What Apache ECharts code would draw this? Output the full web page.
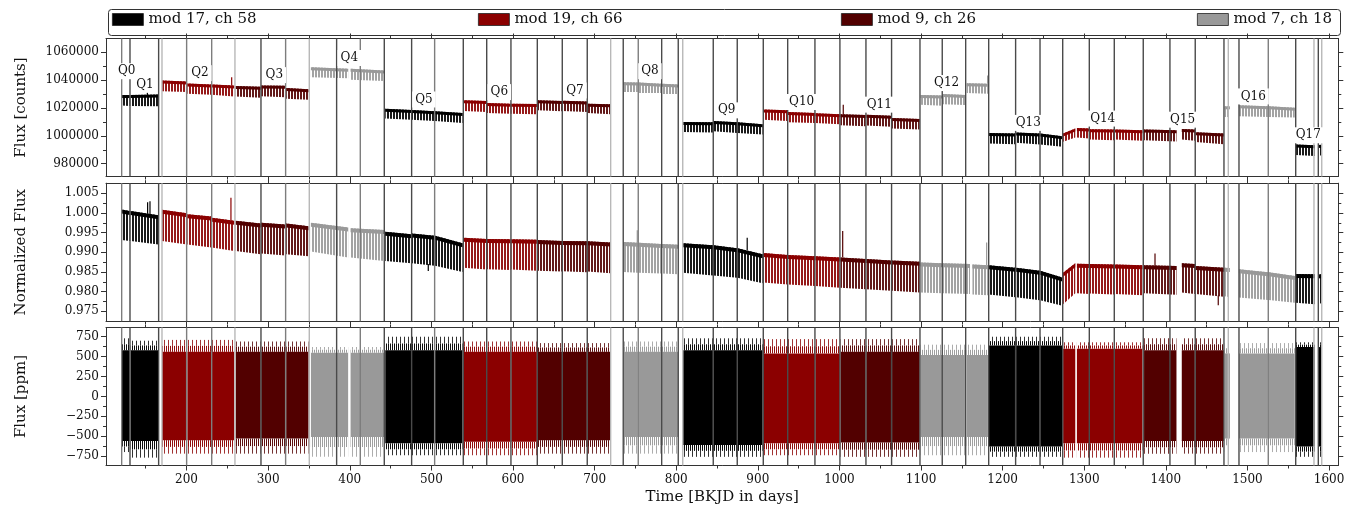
<!DOCTYPE html>
<html><head><meta charset="utf-8">
<script src="https://cdn.jsdelivr.net/npm/echarts@6/dist/echarts.min.js"></script>
<style>html,body{margin:0;padding:0;background:#fff}#c{width:1356px;height:508px}</style>
</head><body><div id="c"></div>
<script>
// ---------------- data ----------------
const MODULES = ['mod 17, ch 58', 'mod 19, ch 66', 'mod 9, ch 26', 'mod 7, ch 18'];
const QUARTERS = ['Q0','Q1','Q2','Q3','Q4','Q5','Q6','Q7','Q8','Q9','Q10','Q11','Q12','Q13','Q14','Q15','Q16','Q17'];
const QUARTER_MODULE = [0,0,1,2,3,0,1,2,3,0,1,2,3,0,1,2,3,0];
// label anchor [time, counts]
const QUARTER_LABEL_POS = [
  [126.6,1046400],[149.1,1036900],[216.4,1045000],[307.5,1043600],[399.4,1055900],[490.9,1026100],
  [583.2,1031400],[675.9,1032600],[767.8,1046400],[861.8,1018300],[953.7,1024300],[1048.8,1022400],
  [1131.4,1037900],[1231.4,1009300],[1322.6,1012400],[1420.6,1011600],[1507.1,1028300],[1574.5,1000400]
];
// [quarter, tStart, tEnd, upperStart, upperEnd, lowerStart, lowerEnd]  (counts)
const RAW_SEGMENTS = [
  [0,120.5,130.3,1029300,1029300,1021700,1021400],
  [1,131.5,165.5,1029300,1029700,1021400,1021200],
  [2,169.9,200.5,1039700,1039000,1032100,1031400],
  [2,201.0,230.5,1037600,1036900,1030200,1029500],
  [2,231.0,258.4,1036900,1036200,1029500,1028300],
  [3,260.2,290.8,1035700,1035200,1028300,1027400],
  [3,291.5,321.0,1036200,1035900,1028500,1027800],
  [3,322.0,349.5,1034300,1033500,1026600,1025900],
  [4,352.4,398.0,1049300,1048100,1042100,1041400],
  [4,401.0,442.2,1048100,1046900,1040200,1039300],
  [5,443.5,475.5,1019500,1018500,1012400,1011600],
  [5,476.0,504.0,1018500,1017600,1011600,1010700],
  [5,504.5,538.2,1017600,1016400,1010700,1009300],
  [6,539.5,567.5,1025500,1025000,1017800,1017100],
  [6,568.0,597.0,1023500,1023100,1016400,1015900],
  [6,598.0,629.3,1023100,1022800,1015900,1015500],
  [7,630.2,660.0,1025500,1025000,1018300,1017600],
  [7,661.0,690.5,1025200,1024700,1017800,1017100],
  [7,691.5,719.5,1023100,1022600,1016400,1015500],
  [8,735.4,753.0,1038500,1038300,1031400,1031400],
  [8,754.0,781.5,1038300,1037400,1030700,1030700],
  [8,782.5,802.3,1037400,1036900,1030000,1030000],
  [9,808.5,845.0,1010000,1009700,1002800,1002400],
  [9,845.8,874.5,1010700,1009700,1003300,1002100],
  [9,875.2,905.9,1009700,1008300,1002100,1000900],
  [10,906.8,936.5,1019000,1018300,1011600,1010700],
  [10,937.0,970.0,1017100,1016400,1009700,1009300],
  [10,970.5,1000.5,1016200,1015500,1009300,1008300],
  [11,1001.3,1032.0,1015500,1015000,1007600,1006900],
  [11,1033.0,1063.5,1015200,1014500,1007400,1006600],
  [11,1064.5,1098.3,1012800,1012100,1005200,1004500],
  [12,1099.4,1126.0,1029300,1029000,1022400,1021600],
  [12,1126.5,1154.0,1030000,1029300,1022600,1022100],
  [12,1156.0,1182.0,1037800,1037400,1030700,1030200],
  [13,1182.8,1215.5,1002100,1001600,994500,994000],
  [13,1216.5,1245.5,1002400,1001600,995000,993800],
  [13,1246.0,1273.1,1001600,999700,993800,992100],
  [14,1274.1,1289.0,1001600,1005200,995700,998800],
  [14,1291.0,1306.0,1005700,1005200,998800,998100],
  [14,1307.0,1336.5,1004700,1004500,997400,996900],
  [14,1337.5,1371.3,1004500,1004000,997400,996400],
  [15,1373.3,1413.0,1004500,1004000,996900,995900],
  [15,1419.5,1435.5,1005000,1004500,997400,996400],
  [15,1436.5,1471.1,1002600,1001600,995500,994000],
  [16,1472.1,1478.5,1021200,1021200,1013500,1013500],
  [16,1489.5,1525.0,1021900,1021200,1014000,1013500],
  [16,1526.0,1558.0,1021200,1020200,1013500,1013100],
  [17,1559.2,1582.5,993800,993300,986200,985500],
  [17,1587.0,1591.0,993500,993500,985900,985900]
];
// [quarter, tStart, tEnd, upperStart, upperEnd, lowerStart, lowerEnd]  (normalized)
const NORM_SEGMENTS = [
  [0,120.5,130.3,1.0009,1.0005,0.9931,0.9929],
  [1,131.5,165.5,1.0005,0.9994,0.9929,0.9920],
  [2,169.9,200.5,1.0008,0.9999,0.9929,0.9920],
  [2,201.0,230.5,0.9997,0.9991,0.9920,0.9912],
  [2,231.0,258.4,0.9988,0.9980,0.9912,0.9903],
  [3,260.2,290.8,0.9980,0.9973,0.9903,0.9895],
  [3,291.5,321.0,0.9975,0.9971,0.9897,0.9892],
  [3,322.0,349.5,0.9973,0.9966,0.9895,0.9890],
  [4,352.4,398.0,0.9975,0.9963,0.9902,0.9887],
  [4,401.0,442.2,0.9961,0.9957,0.9887,0.9878],
  [5,443.5,475.5,0.9952,0.9946,0.9878,0.9872],
  [5,476.0,504.0,0.9948,0.9942,0.9872,0.9866],
  [5,504.5,538.2,0.9942,0.9923,0.9866,0.9850],
  [6,539.5,567.5,0.9937,0.9934,0.9861,0.9856],
  [6,568.0,597.0,0.9934,0.9933,0.9857,0.9855],
  [6,598.0,629.3,0.9933,0.9932,0.9856,0.9853],
  [7,630.2,660.0,0.9931,0.9929,0.9853,0.9851],
  [7,661.0,690.5,0.9929,0.9928,0.9852,0.9849],
  [7,691.5,719.5,0.9928,0.9925,0.9851,0.9847],
  [8,735.4,753.0,0.9926,0.9924,0.9850,0.9848],
  [8,754.0,781.5,0.9924,0.9921,0.9848,0.9846],
  [8,782.5,802.3,0.9921,0.9919,0.9846,0.9844],
  [9,808.5,845.0,0.9923,0.9918,0.9848,0.9841],
  [9,845.8,874.5,0.9918,0.9910,0.9841,0.9835],
  [9,875.2,905.9,0.9910,0.9895,0.9835,0.9821],
  [10,906.8,936.5,0.9898,0.9893,0.9823,0.9818],
  [10,937.0,970.0,0.9893,0.9890,0.9818,0.9814],
  [10,970.5,1000.5,0.9890,0.9887,0.9814,0.9810],
  [11,1001.3,1032.0,0.9887,0.9883,0.9810,0.9806],
  [11,1033.0,1063.5,0.9883,0.9879,0.9806,0.9802],
  [11,1064.5,1098.3,0.9879,0.9876,0.9802,0.9798],
  [12,1099.4,1126.0,0.9874,0.9872,0.9798,0.9796],
  [12,1126.5,1160.0,0.9872,0.9870,0.9796,0.9794],
  [12,1163.0,1182.0,0.9869,0.9867,0.9793,0.9791],
  [13,1182.8,1215.5,0.9867,0.9861,0.9793,0.9786],
  [13,1216.5,1245.5,0.9861,0.9853,0.9786,0.9778],
  [13,1246.0,1273.1,0.9853,0.9836,0.9778,0.9764],
  [14,1274.1,1289.0,0.9848,0.9872,0.9768,0.9796],
  [14,1291.0,1306.0,0.9871,0.9870,0.9796,0.9794],
  [14,1307.0,1336.5,0.9870,0.9869,0.9795,0.9793],
  [14,1337.5,1371.3,0.9869,0.9867,0.9794,0.9791],
  [15,1373.3,1413.0,0.9867,0.9865,0.9796,0.9792],
  [15,1419.5,1435.5,0.9872,0.9870,0.9798,0.9794],
  [15,1436.5,1471.1,0.9865,0.9861,0.9794,0.9787],
  [16,1472.1,1478.5,0.9861,0.9860,0.9788,0.9786],
  [16,1489.5,1525.0,0.9857,0.9849,0.9785,0.9779],
  [16,1526.0,1558.0,0.9849,0.9840,0.9779,0.9772],
  [17,1559.2,1582.5,0.9845,0.9844,0.9772,0.9768],
  [17,1587.0,1591.0,0.9844,0.9844,0.9770,0.9770]
];
// per quarter residual envelope [coreLow, coreHigh, spikeLow, spikeHigh]  (ppm)
const PPM_LEVELS = [
  [-560,580,-700,730],[-560,580,-770,700],[-550,560,-720,710],[-530,560,-720,690],
  [-510,550,-760,620],[-590,580,-740,750],[-570,560,-740,690],[-550,560,-720,670],
  [-510,560,-720,690],[-610,580,-760,730],[-590,540,-740,720],[-580,560,-760,720],
  [-510,520,-740,650],[-630,640,-760,750],[-590,600,-770,680],[-560,580,-720,730],
  [-530,540,-700,670],[-630,620,-760,680]
];
// isolated outliers [quarter, time, base, tip]
const RAW_SPIKES = [[1,152.0,1029300,1031000],[2,255.3,1036300,1042100],[11,1004.7,1015400,1022400],[12,1181.6,1037400,1043300]];
const NORM_SPIKES = [
  [1,152.3,0.9998,1.0027],[1,155.2,0.9997,1.0030],[2,254.4,0.9981,1.0039],[5,496.2,0.9870,0.98526],
  [8,752.3,0.9924,0.9956],[9,887.0,0.9905,0.9937],[11,1004.0,0.9887,0.9954],[12,1180.4,0.9867,0.9925],
  [15,1386.7,0.9866,0.98967],[15,1464.2,0.9790,0.97654]
];
// month / quarter boundary markers [time, shade 0=dark 1=mid 2=light]
const MONTH_LINES = [
  [120.5,1],[130.7,0],[165.8,0],[169.9,2],[200.1,1],[230.8,1],[259.3,2],[291.2,0],[321.4,1],[350.4,2],
  [383.9,0],[412.9,1],[442.3,0],[475.8,0],[504.0,1],[539.1,0],[567.8,0],[597.5,0],[629.8,0],[660.4,0],
  [691.0,0],[719.7,2],[735.1,0],[753.5,1],[782.2,0],[802.5,0],[808.0,2],[845.4,0],[874.8,0],[906.7,0],
  [936.6,0],[970.0,0],[1000.6,0],[1032.5,0],[1063.9,0],[1098.7,0],[1126.0,0],[1154.7,0],[1182.9,0],
  [1215.9,0],[1245.8,0],[1273.6,0],[1306.2,0],[1336.8,0],[1372.3,0],[1405.0,0],[1436.0,0],[1471.2,0],
  [1476.5,2],[1489.6,0],[1525.5,1],[1559.1,0],[1581.5,2],[1586.8,0],[1591.0,2]
];
const X_MAJOR_TICKS = [200,300,400,500,600,700,800,900,1000,1100,1200,1300,1400,1500,1600];
const X_MINOR_TICKS = [150,250,350,450,550,650,750,850,950,1050,1150,1250,1350,1450,1550];
const RAW_TICKS = [980000,1000000,1020000,1040000,1060000];
const RAW_MINOR_TICKS = [990000,1010000,1030000,1050000];
const NORM_TICKS = [0.975,0.980,0.985,0.990,0.995,1.000,1.005];
const NORM_MINOR_TICKS = [0.9775,0.9825,0.9875,0.9925,0.9975,1.0025];
const PPM_TICKS = [-750,-500,-250,0,250,500,750];
const PPM_MINOR_TICKS = [-625,-375,-125,125,375,625];

// ---------------- styling ----------------
const FONT = 'DejaVu Serif';
const MODULE_COLORS = ['#000000', '#8b0000', '#520000', '#999999'];
const SHADES = ['#4a4a4a', '#7d7d7d', '#b8b8b8'];
const AX = {color: '#333', width: 1};
function stripe(color, on, period, alpha) {
  const c = document.createElement('canvas');
  c.width = period; c.height = 4;
  const g = c.getContext('2d');
  g.globalAlpha = alpha; g.fillStyle = color; g.fillRect(0, 0, on, 4);
  return {image: c, repeat: 'repeat'};
}
const COMB = MODULE_COLORS.map(c => stripe(c, 2, 3, 0.9));
const FR_IN = MODULE_COLORS.map(c => stripe(c, 1, 2, 0.95));
const FR_OUT = MODULE_COLORS.map(c => stripe(c, 1, 4, 0.8));

const PANELS = [
  {top: 38.5, min: 970800, max: 1069900, major: RAW_TICKS, minor: RAW_MINOR_TICKS, name: 'Flux [counts]', edge: 3, fmt: v => String(v)},
  {top: 183.2, min: 0.97248, max: 1.00757, major: NORM_TICKS, minor: NORM_MINOR_TICKS, name: 'Normalized Flux', edge: 4, fmt: v => v.toFixed(3)},
  {top: 327.5, min: -869, max: 866, major: PPM_TICKS, minor: PPM_MINOR_TICKS, name: 'Flux [ppm]', edge: 0, fmt: v => v < 0 ? '\u2212' + (-v) : String(v)}
];
const GRID_LEFT = 106, GRID_W = 1232.3, GRID_H = 138;
const X_MIN = 101.3, X_MAX = 1611.3;

const grids = PANELS.map(p => ({left: GRID_LEFT, top: p.top, width: GRID_W, height: GRID_H}));
const xAxes = [], yAxes = [];
PANELS.forEach((p, gi) => {
  const last = gi === PANELS.length - 1;
  const xb = (pos, ticks, len, line, lab) => {
    const a = {type: 'value', gridIndex: gi, position: pos, min: X_MIN, max: X_MAX, splitLine: {show: false},
      axisLine: {show: line, onZero: false, lineStyle: AX},
      axisTick: {show: true, inside: false, customValues: ticks, length: len, lineStyle: AX},
      axisLabel: {show: lab, customValues: X_MAJOR_TICKS, fontSize: 12, fontFamily: FONT, color: '#111', margin: 8,
        formatter: v => String(v)}};
    if (lab) Object.assign(a, {name: 'Time [BKJD in days]', nameLocation: 'middle', nameGap: 24,
      nameTextStyle: {fontSize: 15, fontFamily: FONT, color: '#111'}});
    return a;
  };
  xAxes.push(xb('bottom', X_MAJOR_TICKS, 5, true, last));
  xAxes.push(xb('bottom', X_MINOR_TICKS, 3, false, false));
  xAxes.push(xb('top', X_MAJOR_TICKS, 5, true, false));
  xAxes.push(xb('top', X_MINOR_TICKS, 3, false, false));
  const yb = (pos, ticks, len, line, lab) => {
    const a = {type: 'value', gridIndex: gi, position: pos, min: p.min, max: p.max, splitLine: {show: false}, scale: true,
      axisLine: {show: line, onZero: false, lineStyle: AX},
      axisTick: {show: true, inside: false, customValues: ticks, length: len, lineStyle: AX},
      axisLabel: {show: lab, customValues: p.major, fontSize: 12, fontFamily: FONT, color: '#111', margin: 7, formatter: p.fmt}};
    if (lab) Object.assign(a, {name: p.name, nameLocation: 'middle', nameGap: 77, nameRotate: 90,
      nameTextStyle: {fontSize: 15, fontFamily: FONT, color: '#111'}});
    return a;
  };
  yAxes.push(yb('left', p.major, 5, true, true));
  yAxes.push(yb('left', p.minor, 3, false, false));
  yAxes.push(yb('right', p.major, 5, true, false));
  yAxes.push(yb('right', p.minor, 3, false, false));
});

function combRender(gi) {
  return function (params, api) {
    const m = QUARTER_MODULE[api.value(0)];
    const a = api.coord([api.value(1), api.value(3)]);
    const b = api.coord([api.value(2), api.value(4)]);
    const c = api.coord([api.value(2), api.value(6)]);
    const d = api.coord([api.value(1), api.value(5)]);
    const e = PANELS[gi].edge;
    return {type: 'group', children: [
      {type: 'polygon', shape: {points: [a, b, c, d]}, style: {fill: COMB[m]}},
      {type: 'polygon', shape: {points: [a, b, [b[0], b[1] + e], [a[0], a[1] + e]]}, style: {fill: MODULE_COLORS[m]}}
    ]};
  };
}
function ppmRender(params, api) {
  const m = QUARTER_MODULE[api.value(0)];
  const t0 = api.value(1), t1 = api.value(2);
  const x0 = api.coord([t0, 0])[0], x1 = api.coord([t1, 0])[0];
  const yLo = api.coord([t0, api.value(3)])[1], yHi = api.coord([t0, api.value(4)])[1];
  const ySLo = api.coord([t0, api.value(5)])[1], ySHi = api.coord([t0, api.value(6)])[1];
  const yHiMid = (yHi + ySHi) / 2, yLoMid = (yLo + ySLo) / 2;
  const w = x1 - x0;
  return {type: 'group', children: [
    {type: 'rect', shape: {x: x0, y: ySHi, width: w, height: yHiMid - ySHi}, style: {fill: FR_OUT[m]}},
    {type: 'rect', shape: {x: x0, y: yHiMid, width: w, height: yHi - yHiMid}, style: {fill: FR_IN[m]}},
    {type: 'rect', shape: {x: x0, y: yHi, width: w, height: yLo - yHi}, style: {fill: MODULE_COLORS[m]}},
    {type: 'rect', shape: {x: x0, y: yLo, width: w, height: yLoMid - yLo}, style: {fill: FR_IN[m]}},
    {type: 'rect', shape: {x: x0, y: yLoMid, width: w, height: ySLo - yLoMid}, style: {fill: FR_OUT[m]}}
  ]};
}
function spikeRender(params, api) {
  const m = QUARTER_MODULE[api.value(0)];
  const a = api.coord([api.value(1), api.value(2)]);
  const b = api.coord([api.value(1), api.value(3)]);
  return {type: 'line', shape: {x1: a[0], y1: a[1], x2: b[0], y2: b[1]}, style: {stroke: MODULE_COLORS[m], lineWidth: 1.2}};
}
function vlineRender(gi) {
  return function (params, api) {
    const cs = params.coordSys;
    const x = api.coord([api.value(0), PANELS[gi].min])[0];
    return {type: 'line', shape: {x1: x, y1: cs.y, x2: x, y2: cs.y + cs.height},
      style: {stroke: SHADES[api.value(1)], lineWidth: 1.4}};
  };
}
function labelRender(params, api) {
  const p = api.coord([api.value(0), api.value(1)]);
  return {type: 'text', x: p[0], y: p[1], style: {text: QUARTERS[params.dataIndex], fill: '#111',
    font: '12px "DejaVu Serif"', align: 'center', verticalAlign: 'middle', backgroundColor: '#fff', padding: [2, 3]}};
}

const series = [];
MODULES.forEach((name, m) => {
  const own = s => QUARTER_MODULE[s[0]] === m;
  const base = {type: 'custom', name, silent: true, z: 2, itemStyle: {color: MODULE_COLORS[m]}, encode: {x: 1, y: 3}};
  series.push(Object.assign({}, base, {xAxisIndex: 0, yAxisIndex: 0, renderItem: combRender(0), data: RAW_SEGMENTS.filter(own)}));
  series.push(Object.assign({}, base, {xAxisIndex: 4, yAxisIndex: 4, renderItem: combRender(1), data: NORM_SEGMENTS.filter(own)}));
  series.push(Object.assign({}, base, {xAxisIndex: 8, yAxisIndex: 8, renderItem: ppmRender,
    data: RAW_SEGMENTS.filter(own).map(s => [s[0], s[1], s[2]].concat(PPM_LEVELS[s[0]]))}));
});
series.push({type: 'custom', name: 'raw outliers', silent: true, z: 2, xAxisIndex: 0, yAxisIndex: 0, renderItem: spikeRender, data: RAW_SPIKES, encode: {x: 1, y: 2}});
series.push({type: 'custom', name: 'norm outliers', silent: true, z: 2, xAxisIndex: 4, yAxisIndex: 4, renderItem: spikeRender, data: NORM_SPIKES, encode: {x: 1, y: 2}});
[0, 1, 2].forEach(gi => series.push({type: 'custom', name: 'boundaries ' + gi, silent: true, z: 3,
  xAxisIndex: gi * 4, yAxisIndex: gi * 4, renderItem: vlineRender(gi), data: MONTH_LINES, encode: {x: 0}}));
series.push({type: 'custom', name: 'quarters', silent: true, z: 4, clip: false, xAxisIndex: 0, yAxisIndex: 0,
  renderItem: labelRender, data: QUARTER_LABEL_POS, encode: {x: 0, y: 1}});

const LEGEND_X = [112, 478, 841, 1197];
const legends = MODULES.map((name, i) => ({data: [name], left: LEGEND_X[i], top: 12, padding: 0, icon: 'rect',
  itemWidth: 31, itemHeight: 12, itemGap: 0,
  itemStyle: {borderColor: '#222', borderWidth: 0.8},
  textStyle: {fontSize: 15, fontFamily: FONT, color: '#111'}}));

const chart = echarts.init(document.getElementById('c'), null, {renderer: 'canvas'});
chart.setOption({
  animation: false,
  backgroundColor: '#fff',
  textStyle: {fontFamily: FONT},
  grid: grids,
  xAxis: xAxes,
  yAxis: yAxes,
  legend: legends,
  graphic: [{type: 'rect', left: 106, top: 7, shape: {x: 0, y: 0, width: 1232, height: 26, r: 3},
    style: {fill: 'none', stroke: '#333', lineWidth: 1}, z: -1, silent: true}],
  series
});
</script></body></html>
